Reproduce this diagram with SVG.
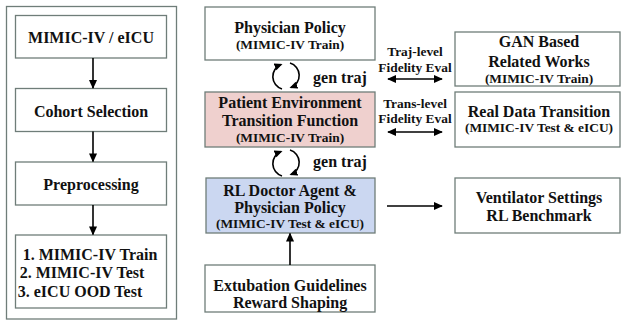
<svg xmlns="http://www.w3.org/2000/svg" width="621" height="321" viewBox="0 0 621 321">
<defs>
<marker id="ah" viewBox="0 0 10 10" refX="9" refY="5" markerWidth="9" markerHeight="9" markerUnits="userSpaceOnUse" orient="auto-start-reverse">
<path d="M0,0.5 L10,5 L0,9.5 Z" fill="#000"/>
</marker>
<marker id="ah2" viewBox="0 0 10 10" refX="8" refY="5" markerWidth="8" markerHeight="8" markerUnits="userSpaceOnUse" orient="auto">
<path d="M0,0.5 L10,5 L0,9.5 Z" fill="#000"/>
</marker>
</defs>
<style>
.box{fill:#fff;stroke:#6f7d79;stroke-width:1.3}
.panel{fill:#fff;stroke:#6f7d79;stroke-width:1.3}
.t{font-family:'Liberation Serif','Times New Roman',Times,serif;font-weight:700;fill:#111;text-anchor:middle}
.big{font-size:16px}
.sm{font-size:13.4px}
.lab{font-size:13.4px}
.ln{stroke:#000;stroke-width:1.6;fill:none}
</style>
<rect width="621" height="321" fill="#fff"/>
<g id="left-panel">
<rect class="panel" x="6.5" y="6.5" width="170" height="312.5"/>
</g>
<g id="n-mimic">
<rect class="box" x="15.5" y="15.5" width="151" height="42.5"/>
<text class="t big" x="91" y="43" font-family="Liberation Serif">MIMIC-IV / eICU</text>
</g>
<g id="n-cohort">
<rect class="box" x="15.5" y="88.5" width="151" height="43"/>
<text class="t big" x="91" y="117">Cohort Selection</text>
</g>
<g id="n-prep">
<rect class="box" x="15.5" y="162" width="151" height="43"/>
<text class="t big" x="91" y="190">Preprocessing</text>
</g>
<g id="n-splits">
<rect class="box" x="15.5" y="235" width="151" height="73"/>
<text class="t big" x="90" y="260">1. MIMIC-IV Train</text>
<text class="t big" x="82" y="278">2. MIMIC-IV Test</text>
<text class="t big" x="80" y="297">3. eICU OOD Test</text>
</g>
<g id="n-physician">
<rect class="box" x="205" y="7" width="170" height="53"/>
<text class="t big" x="290" y="33">Physician Policy</text>
<text class="t sm" x="290" y="49">(MIMIC-IV Train)</text>
</g>
<g id="n-patient">
<rect class="box" x="205" y="92" width="170" height="55" style="fill:#efd0ce"/>
<text class="t big" x="290" y="108">Patient Environment</text>
<text class="t big" x="290" y="126">Transition Function</text>
<text class="t sm" x="290" y="142">(MIMIC-IV Train)</text>
</g>
<g id="n-rl">
<rect class="box" x="206" y="178" width="169" height="55" style="fill:#cbd7f1"/>
<text class="t big" x="290" y="196">RL Doctor Agent &amp;</text>
<text class="t big" x="290" y="213">Physician Policy</text>
<text class="t sm" x="290" y="228">(MIMIC-IV Test &amp; eICU)</text>
</g>
<g id="n-extubation">
<rect class="box" x="205" y="265" width="170" height="47"/>
<text class="t big" x="290" y="291">Extubation Guidelines</text>
<text class="t big" x="290" y="308">Reward Shaping</text>
</g>
<g id="n-gan">
<rect class="box" x="455" y="32" width="165" height="54"/>
<text class="t big" x="539" y="47">GAN Based</text>
<text class="t big" x="539" y="67">Related Works</text>
<text class="t sm" x="539" y="83">(MIMIC-IV Train)</text>
</g>
<g id="n-real">
<rect class="box" x="455" y="92" width="165" height="55"/>
<text class="t big" x="539" y="117">Real Data Transition</text>
<text class="t sm" x="539" y="132">(MIMIC-IV Test &amp; eICU)</text>
</g>
<g id="n-vent">
<rect class="box" x="455" y="178" width="165" height="55"/>
<text class="t big" x="539" y="203">Ventilator Settings</text>
<text class="t big" x="539" y="221">RL Benchmark</text>
</g>
<g id="connectors">
<line class="ln" x1="93" y1="58" x2="93" y2="88" marker-end="url(#ah)"/>
<line class="ln" x1="93" y1="131.5" x2="93" y2="161.5" marker-end="url(#ah)"/>
<line class="ln" x1="93" y1="205" x2="93" y2="234.5" marker-end="url(#ah)"/>
<line class="ln" x1="290" y1="265" x2="290" y2="233.5" marker-end="url(#ah)"/>
<line class="ln" x1="387" y1="206" x2="442" y2="206" marker-end="url(#ah)"/>
<line class="ln" x1="388" y1="79" x2="442" y2="79" marker-start="url(#ah)" marker-end="url(#ah)"/>
<line class="ln" x1="388" y1="132" x2="442" y2="132" marker-start="url(#ah)" marker-end="url(#ah)"/>
<path class="ln" d="M282,89 A13,13 0 0 1 281,64.5" marker-end="url(#ah2)"/>
<path class="ln" d="M290,63 A13,13 0 0 1 291,87.5" marker-end="url(#ah2)"/>
<path class="ln" d="M282,176 A13,13 0 0 1 281,151.5" marker-end="url(#ah2)"/>
<path class="ln" d="M290,150 A13,13 0 0 1 291,174.5" marker-end="url(#ah2)"/>
<text class="t big" x="340" y="83">gen traj</text>
<text class="t big" x="340" y="167">gen traj</text>
<text class="t lab" x="415" y="56">Traj-level</text>
<text class="t lab" x="415" y="72">Fidelity Eval</text>
<text class="t lab" x="415" y="108">Trans-level</text>
<text class="t lab" x="415" y="123">Fidelity Eval</text>
</g>
</svg>
